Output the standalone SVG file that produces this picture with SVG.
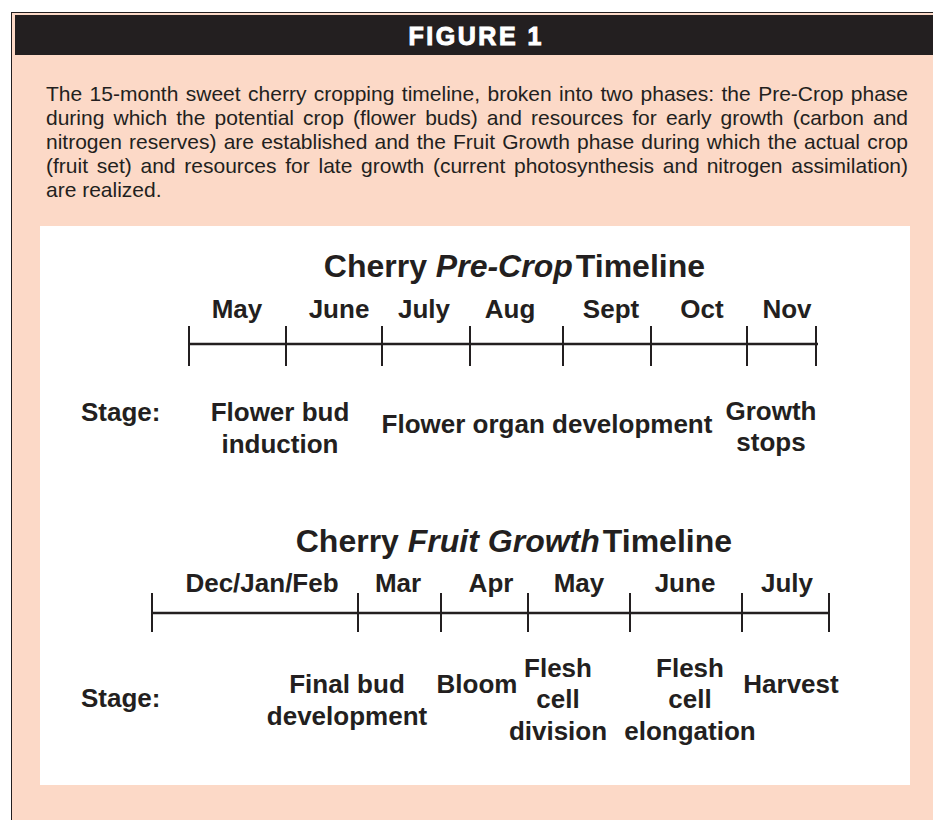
<svg xmlns="http://www.w3.org/2000/svg" width="933" height="820" viewBox="0 0 933 820">
  <style>
    .cap { font-family: "Liberation Sans", Arial, sans-serif; font-size: 21px; fill: #231f20; }
    .ttl { font-family: "Liberation Sans", Arial, sans-serif; font-size: 32px; font-weight: bold; fill: #231f20; }
    .ttl .it { font-style: italic; }
    .lbl { font-family: "Liberation Sans", Arial, sans-serif; font-size: 26px; font-weight: bold; fill: #231f20; text-anchor: middle; }
    .stg { font-family: "Liberation Sans", Arial, sans-serif; font-size: 26px; font-weight: bold; fill: #231f20; }
    .axis { stroke: #231f20; stroke-width: 2.6; fill: none; }
    .tick { stroke: #231f20; stroke-width: 2; fill: none; }
  </style>

  <rect x="0" y="0" width="933" height="820" fill="#ffffff"/>
  <g id="frame">
    <rect x="11.5" y="12.5" width="940" height="830" fill="#fcd9c7" stroke="#231f20" stroke-width="1"/>
    <rect x="15" y="15" width="930" height="40" fill="#231f20"/>
    <text x="475" y="45" text-anchor="middle" font-family="'Liberation Sans', Arial, sans-serif" font-size="25" font-weight="bold" fill="#ffffff" stroke="#ffffff" stroke-width="1" textLength="133" lengthAdjust="spacing">FIGURE 1</text>
  </g>

  <g id="caption" class="cap">
    <text x="46" y="101" word-spacing="1.6" textLength="862" lengthAdjust="spacing">The 15-month sweet cherry cropping timeline, broken into two phases: the Pre-Crop phase</text>
    <text x="46" y="125" word-spacing="3.3" textLength="862" lengthAdjust="spacing">during which the potential crop (flower buds) and resources for early growth (carbon and</text>
    <text x="46" y="149" word-spacing="1.3" textLength="862" lengthAdjust="spacing">nitrogen reserves) are established and the Fruit Growth phase during which the actual crop</text>
    <text x="46" y="173" word-spacing="2.9" textLength="862" lengthAdjust="spacing">(fruit set) and resources for late growth (current photosynthesis and nitrogen assimilation)</text>
    <text x="46" y="197">are realized.</text>
  </g>

  <rect id="panel" x="40" y="226" width="870" height="559" fill="#ffffff"/>

  <g id="precrop-title">
    <text class="ttl" x="705" y="277" text-anchor="end">Cherry <tspan class="it">Pre-Crop</tspan><tspan dx="3">Timeline</tspan></text>
  </g>
  <g id="precrop-months">
    <text class="lbl" x="237" y="318">May</text>
    <text class="lbl" x="339" y="318">June</text>
    <text class="lbl" x="424" y="318">July</text>
    <text class="lbl" x="510" y="318">Aug</text>
    <text class="lbl" x="611" y="318">Sept</text>
    <text class="lbl" x="702" y="318">Oct</text>
    <text class="lbl" x="787" y="318">Nov</text>
  </g>
  <g id="connectors">
    <line class="axis" x1="189" y1="344" x2="818" y2="344"/>
    <g class="tick">
      <line x1="189" y1="326" x2="189" y2="366"/>
      <line x1="286" y1="326" x2="286" y2="366"/>
      <line x1="382" y1="326" x2="382" y2="366"/>
      <line x1="470" y1="326" x2="470" y2="366"/>
      <line x1="563" y1="326" x2="563" y2="366"/>
      <line x1="651" y1="326" x2="651" y2="366"/>
      <line x1="747" y1="326" x2="747" y2="366"/>
      <line x1="816" y1="326" x2="816" y2="366"/>
    </g>
    <line class="axis" x1="152" y1="613" x2="830" y2="613"/>
    <g class="tick">
      <line x1="152" y1="593" x2="152" y2="632"/>
      <line x1="358" y1="593" x2="358" y2="632"/>
      <line x1="441" y1="593" x2="441" y2="632"/>
      <line x1="528" y1="593" x2="528" y2="632"/>
      <line x1="630" y1="593" x2="630" y2="632"/>
      <line x1="742" y1="593" x2="742" y2="632"/>
      <line x1="829" y1="593" x2="829" y2="632"/>
    </g>
  </g>
  <g id="precrop-stages">
    <text class="stg" x="81" y="421">Stage:</text>
    <text class="lbl" x="280" y="421">Flower bud</text>
    <text class="lbl" x="280" y="453">induction</text>
    <text class="lbl" x="547" y="433">Flower organ development</text>
    <text class="lbl" x="771" y="420">Growth</text>
    <text class="lbl" x="771" y="451">stops</text>
  </g>

  <g id="fruit-title">
    <text class="ttl" x="732" y="552" text-anchor="end">Cherry <tspan class="it">Fruit Growth</tspan><tspan dx="3">Timeline</tspan></text>
  </g>
  <g id="fruit-months">
    <text class="lbl" x="262" y="592">Dec/Jan/Feb</text>
    <text class="lbl" x="398" y="592">Mar</text>
    <text class="lbl" x="491" y="592">Apr</text>
    <text class="lbl" x="579" y="592">May</text>
    <text class="lbl" x="685" y="592">June</text>
    <text class="lbl" x="787" y="592">July</text>
  </g>
  <g id="fruit-stages">
    <text class="stg" x="81" y="707">Stage:</text>
    <text class="lbl" x="347" y="693">Final bud</text>
    <text class="lbl" x="347" y="725">development</text>
    <text class="lbl" x="477" y="693">Bloom</text>
    <text class="lbl" x="558" y="677">Flesh</text>
    <text class="lbl" x="558" y="708">cell</text>
    <text class="lbl" x="558" y="740">division</text>
    <text class="lbl" x="690" y="677">Flesh</text>
    <text class="lbl" x="690" y="708">cell</text>
    <text class="lbl" x="690" y="740">elongation</text>
    <text class="lbl" x="791" y="693">Harvest</text>
  </g>
</svg>
